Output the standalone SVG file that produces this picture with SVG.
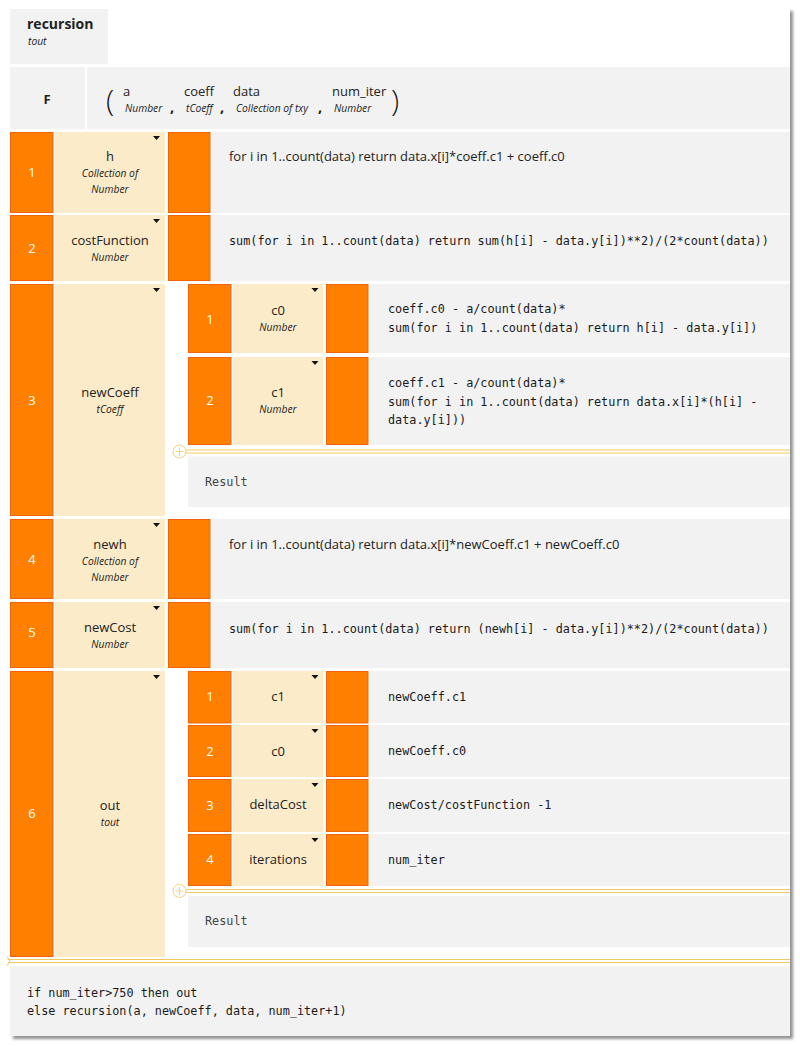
<svg xmlns="http://www.w3.org/2000/svg" xmlns:xlink="http://www.w3.org/1999/xlink" width="800" height="1046" viewBox="0 0 800 1046">
<defs>
<style>
.org{fill:#ff7f00;stroke:#f0650c;stroke-width:1}
.bei{fill:#fcebc9}
.gry{fill:#f2f2f2}
.t{font-family:'Open Sans','Noto Sans','Liberation Sans',sans-serif;font-size:13px;fill:#222}
.c{text-anchor:middle}
.i{font-style:italic;font-size:10.3px}
.b{font-weight:bold}
.n{font-family:'Open Sans','Noto Sans','Liberation Sans',sans-serif;font-size:13px;fill:#fff;text-anchor:middle}
.m{font-family:'DejaVu Sans Mono','Liberation Mono',monospace;font-size:11.8px;fill:#1a1a1a}
.r{fill:#444}
.gl{stroke:#f1c95f;stroke-width:1.2;fill:none}
.pl{stroke:#f3d27e;stroke-width:1;fill:#fff}
</style>
<path id="tri" d="M-3.5,0 h7 l-3.5,4 z" fill="#111"/>
<filter id="sh" x="-5%" y="-5%" width="110%" height="110%">
<feDropShadow dx="3" dy="3" stdDeviation="1.5" flood-color="#777" flood-opacity="0.8"/>
</filter>
</defs>
<rect width="800" height="1046" fill="#fff"/>
<rect x="10" y="8" width="780" height="1028" fill="#fff" filter="url(#sh)"/>

<g id="header">
<rect class="gry" x="10" y="9" width="98" height="55"/>
<text class="t b" x="27" y="29" style="font-size:14px">recursion</text>
<text class="t i" x="28" y="45">tout</text>
</g>

<g id="signature">
<rect class="gry" x="10" y="67" width="75" height="62"/>
<text class="t b c" x="47" y="104" style="font-size:13px">F</text>
<rect class="gry" x="87" y="67" width="703" height="62"/>
<text class="t" x="106" y="111" style="font-size:30px;font-weight:300">(</text>
<text class="t" x="123" y="96">a</text>
<text class="t i" x="125" y="112">Number</text>
<text class="t b" x="170" y="112" style="font-size:15px">,</text>
<text class="t" x="184" y="96">coeff</text>
<text class="t i" x="186" y="112">tCoeff</text>
<text class="t b" x="220" y="112" style="font-size:15px">,</text>
<text class="t" x="233" y="96">data</text>
<text class="t i" x="236" y="112">Collection of txy</text>
<text class="t b" x="318" y="112" style="font-size:15px">,</text>
<text class="t" x="332" y="96">num_iter</text>
<text class="t i" x="334" y="112">Number</text>
<text class="t" x="391" y="111" style="font-size:30px;font-weight:300">)</text>
</g>

<g id="row1">
<rect class="org" x="10.5" y="132.5" width="42.5" height="80"/>
<text class="n" x="32" y="177">1</text>
<rect class="bei" x="55" y="132" width="110" height="81"/>
<use xlink:href="#tri" x="156.5" y="136"/>
<text class="t c" x="110" y="161">h</text>
<text class="t i c" x="110" y="177">Collection of</text>
<text class="t i c" x="110" y="193">Number</text>
<rect class="org" x="168.5" y="132.5" width="41.5" height="80"/>
<rect class="gry" x="212" y="132" width="578" height="81"/>
<text class="t" x="229" y="161">for i in 1..count(data) return data.x[i]*coeff.c1 + coeff.c0</text>
</g>

<g id="row2">
<rect class="org" x="10.5" y="215.5" width="42.5" height="65"/>
<text class="n" x="32" y="252.5">2</text>
<rect class="bei" x="55" y="215" width="110" height="66"/>
<use xlink:href="#tri" x="156.5" y="219"/>
<text class="t c" x="110" y="245">costFunction</text>
<text class="t i c" x="110" y="261">Number</text>
<rect class="org" x="168.5" y="215.5" width="41.5" height="65"/>
<rect class="gry" x="212" y="215" width="578" height="66"/>
<text class="m" x="229" y="245">sum(for i in 1..count(data) return sum(h[i] - data.y[i])**2)/(2*count(data))</text>
</g>

<g id="row3">
<rect class="org" x="10.5" y="284.5" width="42.5" height="231"/>
<text class="n" x="32" y="404.5">3</text>
<rect class="bei" x="55" y="284" width="110" height="232"/>
<use xlink:href="#tri" x="156.5" y="288"/>
<text class="t c" x="110" y="397">newCoeff</text>
<text class="t i c" x="110" y="413">tCoeff</text>
<g id="row3-1">
<rect class="org" x="188.5" y="284.5" width="42.5" height="68"/>
<text class="n" x="210" y="323.5">1</text>
<rect class="bei" x="233" y="284" width="90" height="69"/>
<use xlink:href="#tri" x="315" y="288"/>
<text class="t c" x="278" y="315">c0</text>
<text class="t i c" x="278" y="331">Number</text>
<rect class="org" x="326.5" y="284.5" width="41.5" height="68"/>
<rect class="gry" x="370" y="284" width="420" height="69"/>
<text class="m" x="388" y="313">coeff.c0 - a/count(data)*</text>
<text class="m" x="388" y="332">sum(for i in 1..count(data) return h[i] - data.y[i])</text>
</g>
<g id="row3-2">
<rect class="org" x="188.5" y="357.5" width="42.5" height="87"/>
<text class="n" x="210" y="405">2</text>
<rect class="bei" x="233" y="357" width="90" height="88"/>
<use xlink:href="#tri" x="315" y="361"/>
<text class="t c" x="278" y="397">c1</text>
<text class="t i c" x="278" y="413">Number</text>
<rect class="org" x="326.5" y="357.5" width="41.5" height="87"/>
<rect class="gry" x="370" y="357" width="420" height="88"/>
<text class="m" x="388" y="387">coeff.c1 - a/count(data)*</text>
<text class="m" x="388" y="405.5">sum(for i in 1..count(data) return data.x[i]*(h[i] -</text>
<text class="m" x="388" y="424">data.y[i]))</text>
</g>
<g id="row3-result">
<line class="gl" x1="186" y1="450" x2="790" y2="450"/>
<line class="gl" x1="186" y1="453" x2="790" y2="453"/>
<circle class="pl" cx="179.5" cy="451.5" r="6.5"/>
<path d="M175.5,451.5 h8 M179.5,447.5 v8" stroke="#f3d27e" stroke-width="1"/>
<rect class="gry" x="188" y="456.5" width="602" height="50.5"/>
<text class="m r" x="205" y="486">Result</text>
</g>
</g>

<g id="row4">
<rect class="org" x="10.5" y="519.5" width="42.5" height="79"/>
<text class="n" x="32" y="564">4</text>
<rect class="bei" x="55" y="519" width="110" height="80"/>
<use xlink:href="#tri" x="156.5" y="523"/>
<text class="t c" x="110" y="549">newh</text>
<text class="t i c" x="110" y="565">Collection of</text>
<text class="t i c" x="110" y="581">Number</text>
<rect class="org" x="168.5" y="519.5" width="41.5" height="79"/>
<rect class="gry" x="212" y="519" width="578" height="80"/>
<text class="t" x="229" y="549">for i in 1..count(data) return data.x[i]*newCoeff.c1 + newCoeff.c0</text>
</g>

<g id="row5">
<rect class="org" x="10.5" y="602.5" width="42.5" height="65"/>
<text class="n" x="32" y="636.5">5</text>
<rect class="bei" x="55" y="602" width="110" height="66"/>
<use xlink:href="#tri" x="156.5" y="606"/>
<text class="t c" x="110" y="632">newCost</text>
<text class="t i c" x="110" y="648">Number</text>
<rect class="org" x="168.5" y="602.5" width="41.5" height="65"/>
<rect class="gry" x="212" y="602" width="578" height="66"/>
<text class="m" x="229" y="633">sum(for i in 1..count(data) return (newh[i] - data.y[i])**2)/(2*count(data))</text>
</g>

<g id="row6">
<rect class="org" x="10.5" y="671.5" width="42.5" height="285"/>
<text class="n" x="32" y="817.5">6</text>
<rect class="bei" x="55" y="671" width="110" height="286"/>
<use xlink:href="#tri" x="156.5" y="675"/>
<text class="t c" x="110" y="810">out</text>
<text class="t i c" x="110" y="826">tout</text>
<g id="row6-1">
<rect class="org" x="188.5" y="671.5" width="42.5" height="51.5"/>
<text class="n" x="210" y="701">1</text>
<rect class="bei" x="233" y="671" width="90" height="52"/>
<use xlink:href="#tri" x="315" y="675"/>
<text class="t c" x="278" y="701">c1</text>
<rect class="org" x="326.5" y="671.5" width="41.5" height="51.5"/>
<rect class="gry" x="370" y="671" width="420" height="52"/>
<text class="m" x="388" y="700.5">newCoeff.c1</text>
</g>
<g id="row6-2">
<rect class="org" x="188.5" y="725.5" width="42.5" height="51"/>
<text class="n" x="210" y="755.5">2</text>
<rect class="bei" x="233" y="725" width="90" height="52"/>
<use xlink:href="#tri" x="315" y="729"/>
<text class="t c" x="278" y="755.5">c0</text>
<rect class="org" x="326.5" y="725.5" width="41.5" height="51"/>
<rect class="gry" x="370" y="725" width="420" height="52"/>
<text class="m" x="388" y="755">newCoeff.c0</text>
</g>
<g id="row6-3">
<rect class="org" x="188.5" y="779.5" width="42.5" height="52"/>
<text class="n" x="210" y="809.5">3</text>
<rect class="bei" x="233" y="779" width="90" height="53"/>
<use xlink:href="#tri" x="315" y="783"/>
<text class="t c" x="278" y="809">deltaCost</text>
<rect class="org" x="326.5" y="779.5" width="41.5" height="52"/>
<rect class="gry" x="370" y="779" width="420" height="53"/>
<text class="m" x="388" y="809">newCost/costFunction -1</text>
</g>
<g id="row6-4">
<rect class="org" x="188.5" y="834.5" width="42.5" height="51"/>
<text class="n" x="210" y="864">4</text>
<rect class="bei" x="233" y="834" width="90" height="52"/>
<use xlink:href="#tri" x="315" y="838"/>
<text class="t c" x="278" y="864">iterations</text>
<rect class="org" x="326.5" y="834.5" width="41.5" height="51"/>
<rect class="gry" x="370" y="834" width="420" height="52"/>
<text class="m" x="388" y="864">num_iter</text>
</g>
<g id="row6-result">
<line class="gl" x1="186" y1="889.5" x2="790" y2="889.5"/>
<line class="gl" x1="186" y1="892.5" x2="790" y2="892.5"/>
<circle class="pl" cx="179.5" cy="891" r="6.5"/>
<path d="M175.5,891 h8 M179.5,887 v8" stroke="#f3d27e" stroke-width="1"/>
<rect class="gry" x="188" y="896" width="602" height="51"/>
<text class="m r" x="205" y="925">Result</text>
</g>
</g>

<g id="result">
<line class="gl" x1="8" y1="959.5" x2="790" y2="959.5"/>
<line class="gl" x1="8" y1="962.5" x2="790" y2="962.5"/>
<path d="M7,956.5 l3,4.5 l-3,4.5" stroke="#f1c95f" stroke-width="1" fill="none"/>
<rect class="gry" x="10" y="966.5" width="780" height="69.5"/>
<text class="m" x="27" y="997">if num_iter&gt;750 then out</text>
<text class="m" x="27" y="1015">else recursion(a, newCoeff, data, num_iter+1)</text>
</g>
</svg>
